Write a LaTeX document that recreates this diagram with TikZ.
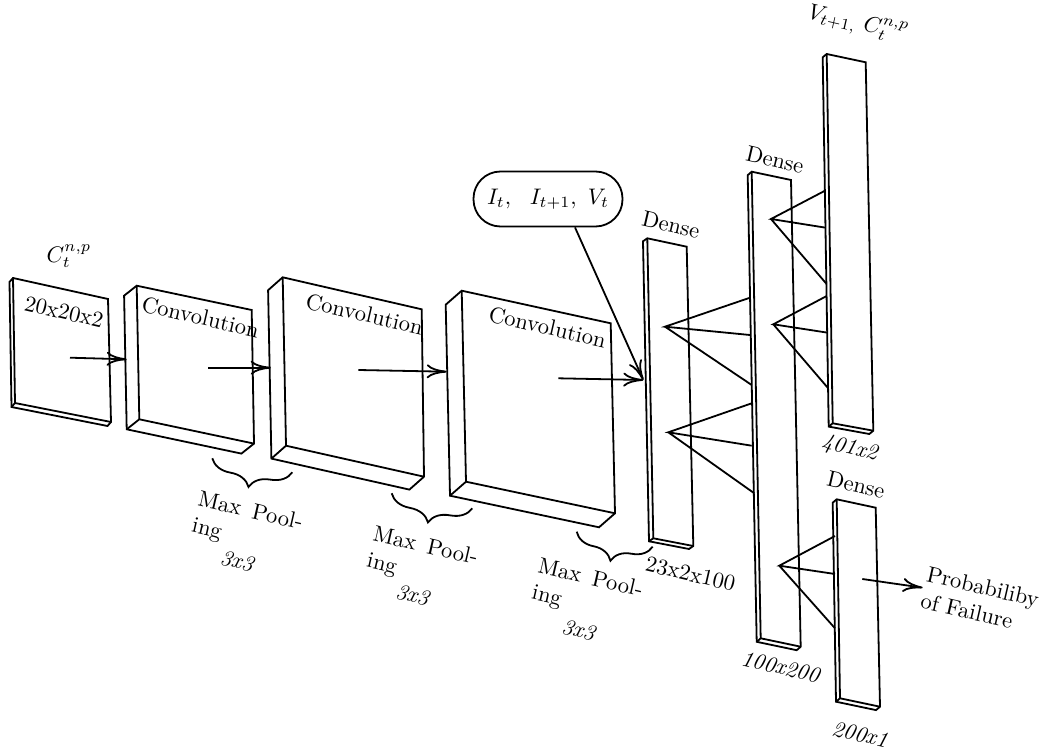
\documentclass[tikz,border=0pt]{standalone}
\usetikzlibrary{arrows.meta,calc,decorations.pathreplacing}
\newcommand\slab[6]{%
  \coordinate (#1-a) at #2;
  \coordinate (#1-b) at #3;
  \coordinate (#1-c) at #4;
  \coordinate (#1-d) at #5;
  \draw (#1-a) -- (#1-b) -- (#1-c) -- ($(#1-c)+#6$) -- ($(#1-d)+#6$) -- ($(#1-a)+#6$) -- cycle;
  \draw (#1-a) -- (#1-d) -- (#1-c) (#1-d) -- ($(#1-d)+#6$);
}
\begin{document}
\begin{tikzpicture}[x=1pt,y=-1pt,line width=1.8pt,
  lbl/.style={inner sep=0pt,scale=2.25,rotate=-13,font=\normalsize},
  arr/.style={-{To[length=20pt,width=14pt]}},
  brc/.style={decorate,decoration={brace,mirror,amplitude=22pt}}]
\useasboundingbox (0,0) rectangle (1045,751);

% blocks
\slab{b1}{(13,278)}{(108,299)}{(111,422)}{(15,403)}{(-3.5,4)}
\slab{b2}{(136.7,285.7)}{(251.7,310)}{(254,443.6)}{(139.3,419.3)}{(-12.6,10)}
\slab{b3}{(282.7,277.3)}{(421.7,309.3)}{(424,476.7)}{(286,445.7)}{(-14.6,12.9)}
\slab{b4}{(461.7,290.7)}{(610.7,323.3)}{(615,513.3)}{(466,481.7)}{(-16,14)}
\slab{d1}{(647.3,238.3)}{(686.7,246.7)}{(693.3,546)}{(653.3,538.3)}{(-4.3,3)}
\slab{d2}{(751.7,171.7)}{(791,180)}{(800.7,646.7)}{(760.7,638.3)}{(-4,3.5)}
\slab{d3}{(826.7,54)}{(865.7,62.3)}{(873.3,430.7)}{(832.7,423.3)}{(-4,3.3)}
\slab{d4}{(836.7,499.3)}{(875.7,507.7)}{(880,706.7)}{(840,698.3)}{(-4,3.4)}

% labels
\node[inner sep=0pt,scale=2.25] (cin) at (69,256) {$C_t^{n,p}$};
\node[lbl] (t20) at (64,312) {20x20x2};
\node[lbl] (cv1) at (200.5,317) {Convolution};
\node[lbl] (cv2) at (364.5,314) {Convolution};
\node[lbl] (cv3) at (547.5,327) {Convolution};
\node[lbl] (dn1) at (671,225) {Dense};
\node[lbl] (dn2) at (775,160) {Dense};
\node[lbl] (dn3) at (856,485) {Dense};
\node[lbl] (sz1) at (690.5,574) {23x2x100};
\node[lbl] (sz2) at (781,667) {\textit{100x200}};
\node[lbl] (sz3) at (850,449) {\textit{401x2}};
\node[lbl] (sz4) at (860,734.5) {\textit{200x1}};
\node[lbl,align=left] (pf) at (980,600) {Probabiliby\\of Failure};
\node[lbl] (vc) at (858,24) {$V_{t+1,}\ C_t^{n,p}$};
\node[draw,rounded corners=27pt,minimum width=149pt,minimum height=55pt,inner sep=0pt]
  (inp) at (548,199) {\scalebox{2.25}{$I_t,\ \ I_{t+1},\ V_t$}};

% max pooling labels
\node[lbl,anchor=north west,align=left] (mp1) at (199,488) {\makebox[47.5pt][s]{Max Pool-}\\ing};
\node[lbl,anchor=north west,align=left] (mp2) at (374,523) {\makebox[47.5pt][s]{Max Pool-}\\ing};
\node[lbl,anchor=north west,align=left] (mp3) at (539,555) {\makebox[47.5pt][s]{Max Pool-}\\ing};
\node[lbl] (k1) at (237.5,561) {\textit{3x3}};
\node[lbl] (k2) at (413,595) {\textit{3x3}};
\node[lbl] (k3) at (579,630) {\textit{3x3}};

% braces
\coordinate (br1a) at (212.3,458.3); \coordinate (br1b) at (292.3,472.3);
\coordinate (br2a) at (391.7,493.3); \coordinate (br2b) at (472.3,508.3);
\coordinate (br3a) at (576.7,531.7); \coordinate (br3b) at (652.7,546.7);
\draw[brc] (br1a) -- (br1b);
\draw[brc] (br2a) -- (br2b);
\draw[brc] (br3a) -- (br3b);

% arrows
\coordinate (s1) at (70,357.7);   \coordinate (e1) at (126.7,359.3);
\coordinate (s2) at (208.3,367.7); \coordinate (e2) at (270.7,367.7);
\coordinate (s3) at (358.3,370);  \coordinate (e3) at (446.7,371.7);
\coordinate (s4) at (558.3,378.3); \coordinate (e4) at (643.3,380);
\coordinate (s6) at (862.3,579);  \coordinate (e6) at (922.7,587.7);
\draw[arr] (s1) -- (e1);
\draw[arr] (s2) -- (e2);
\draw[arr] (s3) -- (e3);
\draw[arr] (s4) -- (e4);
\draw[arr] ([xshift=27pt]inp.south) -- (e4);
\draw[arr] (s6) -- (e6);

% fans d1 -> d2
\coordinate (p1) at (665,326.7);
\coordinate (p2) at (668.3,432.3);
\coordinate (q1) at (750,297.7); \coordinate (q2) at (750,335); \coordinate (q3) at (751.7,385);
\coordinate (q4) at (751.7,403.3); \coordinate (q5) at (751.7,445.7); \coordinate (q6) at (754.3,493.3);
\draw (q1) -- (p1) -- (q2) (p1) -- (q3);
\draw (q4) -- (p2) -- (q5) (p2) -- (q6);
% fans d2 -> d3
\coordinate (p3) at (771,219);
\coordinate (p4) at (773.3,324.3);
\coordinate (r1) at (825,190.7); \coordinate (r2) at (825.7,227.7); \coordinate (r3) at (826,283.3);
\coordinate (r4) at (826.7,296); \coordinate (r5) at (827.7,332.7); \coordinate (r6) at (827.7,387.7);
\draw (r1) -- (p3) -- (r2) (p3) -- (r3);
\draw (r4) -- (p4) -- (r5) (p4) -- (r6);
% fan d2 -> d4
\coordinate (p5) at (779.3,565.7);
\coordinate (u1) at (835,536); \coordinate (u2) at (835,574); \coordinate (u3) at (835,628.3);
\draw (u1) -- (p5) -- (u2) (p5) -- (u3);
\end{tikzpicture}
\end{document}
